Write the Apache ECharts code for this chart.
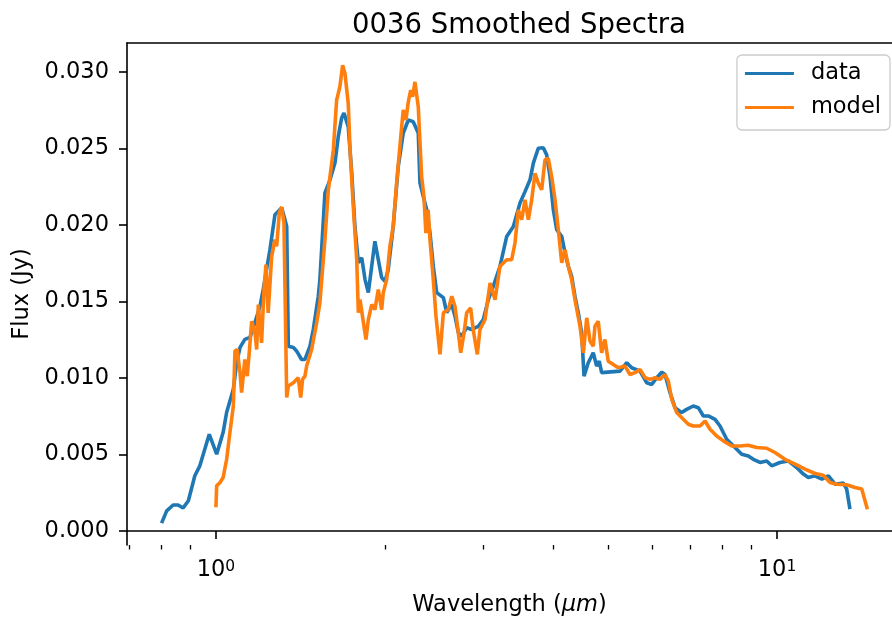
<!DOCTYPE html>
<html>
<head>
<meta charset="utf-8">
<title>0036 Smoothed Spectra</title>
<script src="https://cdn.jsdelivr.net/npm/echarts@6/dist/echarts.min.js"></script>
<style>
  html, body { margin: 0; padding: 0; background: #fff; }
  #chart { width: 892px; height: 622px; }
</style>
</head>
<body>
<div id="chart"></div>
<script>
// wavelength in micron, flux in Jy
const waveData = [0.800, 0.817, 0.839, 0.856, 0.874, 0.893, 0.917, 0.936, 0.973, 1.003,
  1.030, 1.045, 1.074, 1.089, 1.104, 1.126, 1.150, 1.166, 1.198, 1.214,
  1.248, 1.274, 1.310, 1.337, 1.346, 1.374, 1.393, 1.421, 1.441, 1.471,
  1.491, 1.522, 1.532, 1.564, 1.597, 1.630, 1.652, 1.675, 1.691, 1.721,
  1.746, 1.769, 1.794, 1.819, 1.844, 1.869, 1.895, 1.920, 1.947, 1.974,
  2.001, 2.028, 2.070, 2.113, 2.157, 2.202, 2.247, 2.294, 2.310, 2.342,
  2.375, 2.407, 2.440, 2.474, 2.543, 2.578, 2.632, 2.667, 2.704, 2.742,
  2.798, 2.856, 2.935, 2.996, 3.058, 3.121, 3.208, 3.298, 3.389, 3.483,
  3.555, 3.629, 3.679, 3.754, 3.832, 3.886, 3.939, 3.993, 4.049, 4.133,
  4.190, 4.246, 4.305, 4.364, 4.424, 4.486, 4.529, 4.609, 4.704, 4.770,
  4.821, 4.869, 5.250, 5.397, 5.508, 5.700, 5.859, 5.980, 6.104, 6.230,
  6.315, 6.446, 6.580, 6.762, 6.902, 7.092, 7.240, 7.390, 7.543, 7.754,
  7.914, 8.134, 8.416, 8.651, 8.889, 9.073, 9.326, 9.585, 9.784, 10.12,
  10.47, 10.84, 11.14, 11.37, 11.69, 12.02, 12.35, 12.69, 13.13, 13.31, 13.49]
const fluxData = [0.00052, 0.00132, 0.00170, 0.00170, 0.00150, 0.00198, 0.00361, 0.00426, 0.00632, 0.00502,
  0.00645, 0.00776, 0.00926, 0.01102, 0.01200, 0.01252, 0.01265, 0.01330, 0.01467, 0.01578,
  0.01838, 0.02067, 0.02112, 0.01990, 0.01208, 0.01200, 0.01175, 0.01121, 0.01121, 0.01208,
  0.01317, 0.01534, 0.01643, 0.02210, 0.02295, 0.02406, 0.02577, 0.02699, 0.02731, 0.02642,
  0.02340, 0.01990, 0.01754, 0.01786, 0.01643, 0.01558, 0.01730, 0.01893, 0.01773, 0.01656,
  0.01632, 0.01708, 0.01990, 0.02381, 0.02601, 0.02686, 0.02675, 0.02601, 0.02275, 0.02186,
  0.02099, 0.01949, 0.01730, 0.01558, 0.01525, 0.01428, 0.01480, 0.01404, 0.01297, 0.01273,
  0.01328, 0.01317, 0.01338, 0.01382, 0.01512, 0.01599, 0.01730, 0.01925, 0.01990, 0.02143,
  0.02218, 0.02295, 0.02404, 0.02501, 0.02505, 0.02458, 0.02316, 0.02099, 0.01969, 0.01925,
  0.01817, 0.01730, 0.01664, 0.01534, 0.01426, 0.01295, 0.01012, 0.01100, 0.01165, 0.01078,
  0.01110, 0.01035, 0.01045, 0.01100, 0.01067, 0.01045, 0.00969, 0.00958, 0.01002, 0.01038,
  0.01023, 0.00904, 0.00806, 0.00774, 0.00795, 0.00817, 0.00806, 0.00752, 0.00752, 0.00730,
  0.00686, 0.00600, 0.00546, 0.00502, 0.00491, 0.00469, 0.00448, 0.00458, 0.00426, 0.00448,
  0.00458, 0.00415, 0.00372, 0.00350, 0.00361, 0.00339, 0.00361, 0.00306, 0.00313, 0.00274, 0.00143]

const waveModel = [1.000, 1.003, 1.017, 1.030, 1.045, 1.059, 1.074, 1.081, 1.091, 1.104,
  1.111, 1.126, 1.137, 1.147, 1.158, 1.174, 1.182, 1.190, 1.206, 1.218,
  1.228, 1.239, 1.257, 1.274, 1.283, 1.297, 1.310, 1.322, 1.337, 1.346,
  1.374, 1.402, 1.416, 1.427, 1.441, 1.451, 1.481, 1.512, 1.532, 1.564,
  1.586, 1.619, 1.641, 1.663, 1.682, 1.698, 1.721, 1.734, 1.757, 1.782,
  1.794, 1.806, 1.851, 1.869, 1.895, 1.920, 1.947, 1.974, 1.987, 2.015,
  2.042, 2.070, 2.099, 2.143, 2.157, 2.181, 2.202, 2.224, 2.242, 2.263,
  2.294, 2.326, 2.348, 2.367, 2.389, 2.407, 2.440, 2.467, 2.508, 2.543,
  2.595, 2.632, 2.667, 2.704, 2.731, 2.768, 2.798, 2.844, 2.874, 2.923,
  2.955, 3.017, 3.080, 3.144, 3.208, 3.298, 3.366, 3.412, 3.459, 3.507,
  3.555, 3.604, 3.654, 3.704, 3.754, 3.807, 3.859, 3.911, 3.966, 4.021,
  4.076, 4.133, 4.190, 4.246, 4.305, 4.364, 4.455, 4.517, 4.580, 4.642,
  4.704, 4.737, 4.801, 4.869, 4.935, 5.003, 5.213, 5.359, 5.470, 5.584,
  5.700, 5.819, 5.940, 6.063, 6.185, 6.315, 6.401, 6.492, 6.626, 6.808,
  6.950, 7.092, 7.291, 7.443, 7.597, 7.807, 8.023, 8.305, 8.590, 8.889,
  9.202, 9.585, 9.917, 10.33, 10.77, 11.22, 11.69, 12.09, 12.43, 12.78,
  13.31, 13.77, 14.16, 14.25, 14.35, 14.49]
const fluxModel = [0.00155, 0.00295, 0.00317, 0.00350, 0.00469, 0.00643, 0.00817, 0.01175, 0.01186, 0.01035,
  0.00904, 0.01121, 0.01012, 0.01175, 0.01371, 0.01295, 0.01186, 0.01480, 0.01230, 0.01578,
  0.01741, 0.01426, 0.01795, 0.01904, 0.01860, 0.02078, 0.02117, 0.02012, 0.00872, 0.00947,
  0.00969, 0.01002, 0.00872, 0.00991, 0.01012, 0.01078, 0.01186, 0.01361, 0.01491, 0.01904,
  0.02230, 0.02490, 0.02816, 0.02903, 0.03044, 0.02990, 0.02795, 0.02490, 0.02121, 0.01773,
  0.01426, 0.01512, 0.01252, 0.01382, 0.01480, 0.01447, 0.01578, 0.01447, 0.01556, 0.01643,
  0.01860, 0.01990, 0.02273, 0.02642, 0.02751, 0.02686, 0.02805, 0.02881, 0.02838, 0.02935,
  0.02773, 0.02316, 0.02186, 0.01947, 0.02099, 0.01904, 0.01643, 0.01404, 0.01154, 0.01426,
  0.01447, 0.01534, 0.01469, 0.01295, 0.01165, 0.01295, 0.01426, 0.01458, 0.01317, 0.01154,
  0.01317, 0.01382, 0.01621, 0.01512, 0.01730, 0.01773, 0.01773, 0.01882, 0.02099, 0.02034,
  0.02164, 0.02034, 0.02164, 0.02338, 0.02273, 0.02230, 0.02425, 0.02436, 0.02316, 0.02164,
  0.01969, 0.01752, 0.01838, 0.01730, 0.01643, 0.01512, 0.01338, 0.01165, 0.01393, 0.01241,
  0.01208, 0.01338, 0.01371, 0.01165, 0.01252, 0.01110, 0.01067, 0.01078, 0.01023, 0.01035,
  0.01056, 0.01002, 0.00991, 0.01002, 0.00991, 0.01023, 0.00980, 0.00861, 0.00774, 0.00730,
  0.00698, 0.00686, 0.00686, 0.00719, 0.00665, 0.00621, 0.00589, 0.00556, 0.00556, 0.00561,
  0.00546, 0.00541, 0.00513, 0.00469, 0.00437, 0.00404, 0.00376, 0.00365, 0.00317, 0.00306,
  0.00302, 0.00285, 0.00274, 0.00263, 0.00198, 0.00143]

const yTicks = [0, 0.005, 0.01, 0.015, 0.02, 0.025, 0.03]
const xMajorTicks = [1, 10]
const xMinorTicks = [0.7, 0.8, 0.9, 2, 3, 4, 5, 6, 7, 8, 9]

const font = 'DejaVu Sans'
// the axes run past the right edge of the picture, so the visible range stops at ~16 um
const xMin = 0.6942
const xMax = 16.03

function zip(xs, ys) {
  return xs.map((x, i) => [x, ys[i]])
}

const chart = echarts.init(document.getElementById('chart'), null, { renderer: 'canvas' })

const axisLine = { show: true, lineStyle: { color: '#000', width: 1.6 } }

chart.setOption({
  animation: false,
  textStyle: { fontFamily: font },
  title: {
    text: '0036 Smoothed Spectra',
    left: 514,
    textAlign: 'center',
    top: 7,
    textStyle: { fontFamily: font, fontSize: 27.5, fontWeight: 'normal', color: '#000' }
  },
  legend: {
    orient: 'vertical',
    right: 2,
    top: 55,
    padding: [7, 9, 11, 8],
    itemGap: 11,
    itemWidth: 49,
    itemHeight: 3,
    icon: 'rect',
    backgroundColor: 'rgba(255,255,255,0.8)',
    borderColor: '#cccccc',
    borderWidth: 1.3,
    borderRadius: 5,
    textStyle: { fontFamily: font, fontSize: 22.5, color: '#000', padding: [0, 0, 0, 12] },
    data: ['data', 'model']
  },
  grid: {
    left: 127,
    right: 0,
    top: 43,
    bottom: 76
  },
  xAxis: [{
    type: 'log',
    position: 'bottom',
    min: xMin,
    max: xMax,
    name: 'Wavelength ({i|μm})',
    nameLocation: 'middle',
    nameGap: 49,
    nameTextStyle: {
      fontFamily: font, fontSize: 22.5, color: '#000',
      rich: { i: { fontFamily: font, fontSize: 22.5, fontStyle: 'italic', color: '#000' } }
    },
    axisLine: axisLine,
    axisTick: { show: true, length: 8, lineStyle: { color: '#000', width: 1.6 }, customValues: xMajorTicks },
    axisLabel: {
      margin: 14,
      color: '#000',
      fontFamily: font,
      fontSize: 22.5,
      customValues: xMajorTicks,
      formatter: v => '10{sup|' + Math.round(Math.log10(v)) + '}',
      rich: { sup: { fontFamily: font, fontSize: 15.5, verticalAlign: 'top', padding: [0, 0, 4, 0], color: '#000' } }
    },
    splitLine: { show: false }
  }, {
    // top frame line
    type: 'log',
    position: 'top',
    min: xMin,
    max: xMax,
    axisLine: axisLine,
    axisTick: { show: false },
    axisLabel: { show: false },
    splitLine: { show: false }
  }, {
    // minor ticks
    type: 'log',
    position: 'bottom',
    min: xMin,
    max: xMax,
    axisLine: { show: false },
    axisTick: { show: true, length: 4.5, lineStyle: { color: '#000', width: 1.3 }, customValues: xMinorTicks },
    axisLabel: { show: false },
    splitLine: { show: false }
  }],
  yAxis: {
    type: 'value',
    min: -0.000913,
    max: 0.03189,
    name: 'Flux (Jy)',
    nameLocation: 'middle',
    nameGap: 92,
    nameTextStyle: { fontFamily: font, fontSize: 22.5, color: '#000' },
    axisLine: axisLine,
    axisTick: { show: true, length: 8, lineStyle: { color: '#000', width: 1.6 }, customValues: yTicks },
    axisLabel: {
      margin: 18,
      color: '#000',
      fontFamily: font,
      fontSize: 22.5,
      customValues: yTicks,
      formatter: v => v.toFixed(3)
    },
    splitLine: { show: false }
  },
  series: [{
    name: 'data',
    type: 'line',
    xAxisIndex: 0,
    showSymbol: false,
    symbol: 'none',
    lineStyle: { color: '#1f77b4', width: 3.6 },
    itemStyle: { color: '#1f77b4' },
    data: zip(waveData, fluxData)
  }, {
    name: 'model',
    type: 'line',
    xAxisIndex: 0,
    showSymbol: false,
    symbol: 'none',
    lineStyle: { color: '#ff7f0e', width: 3.6 },
    itemStyle: { color: '#ff7f0e' },
    data: zip(waveModel, fluxModel)
  }]
})
</script>
</body>
</html>
